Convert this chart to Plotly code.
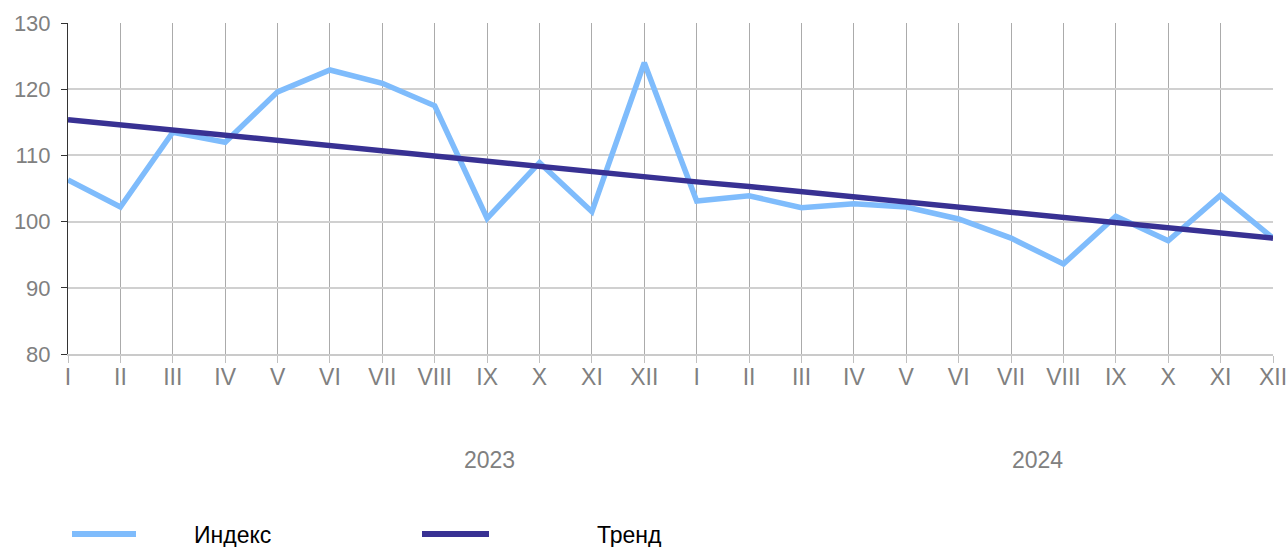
import plotly.graph_objects as go

months = ["I", "II", "III", "IV", "V", "VI", "VII", "VIII", "IX", "X", "XI", "XII",
          "I", "II", "III", "IV", "V", "VI", "VII", "VIII", "IX", "X", "XI", "XII"]
years = ["2023", "2024"]
index_vals = [106.3, 102.2, 113.5, 112.0, 119.6, 122.9, 120.9, 117.5, 100.5, 108.9, 101.5, 124.0,
              103.1, 103.9, 102.1, 102.7, 102.2, 100.4, 97.5, 93.6, 100.8, 97.1, 104.0, 97.5]
trend_vals = [115.4, 114.6, 113.8, 113.1, 112.3, 111.5, 110.7, 109.9, 109.2, 108.4, 107.6, 106.8,
              106.0, 105.3, 104.5, 103.7, 102.9, 102.1, 101.4, 100.6, 99.8, 99.0, 98.2, 97.5]
year_pos = [8.05, 18.5]
series_names = ["Индекс", "Тренд"]
series_colors = ["#7FBCFC", "#383193"]

W, H = 1288, 547
ML, MR, MT, MB = 68, 15, 23, 193

x = list(range(len(months)))
fig = go.Figure()
for vals, name, col in zip([index_vals, trend_vals], series_names, series_colors):
    fig.add_trace(go.Scatter(x=x, y=vals, mode="lines", name=name,
                             line=dict(color=col, width=5.5), showlegend=False))

for yr, xp in zip(years, year_pos):
    fig.add_annotation(x=xp, y=0, xref="x", yref="paper", yshift=-106, yanchor="middle",
                       text=yr, showarrow=False, font=dict(size=23, color="#808080"))

# legend drawn at pixel positions (converted to paper coords)
pw, ph = W - ML - MR, H - MT - MB
def px(xs):
    return (xs - ML) / pw
def py(ys):
    return (H - MB - ys) / ph

leg_items = [(72, 136, 192), (422, 489, 595)]
for (x0, x1, tx), name, col in zip(leg_items, series_names, series_colors):
    fig.add_shape(type="line", xref="paper", yref="paper", x0=px(x0), x1=px(x1),
                  y0=py(534), y1=py(534), line=dict(color=col, width=6))
    fig.add_annotation(xref="paper", yref="paper", x=px(tx), y=py(535), xanchor="left",
                       yanchor="middle", text=name, showarrow=False,
                       font=dict(size=23, color="#000000"))

fig.update_layout(
    width=W, height=H,
    margin=dict(l=ML, r=MR, t=MT, b=MB, autoexpand=False),
    plot_bgcolor="white", paper_bgcolor="white",
    font=dict(family="Liberation Sans, Arial", color="#808080"),
    showlegend=False,
)
fig.update_xaxes(range=[0, 23], tickmode="array", tickvals=x, ticktext=months,
                 showgrid=True, gridcolor="#ABABAB", gridwidth=1,
                 showline=True, linecolor="#CACACA", linewidth=2,
                 ticks="outside", ticklen=7, tickcolor="#C0C0C0", ticklabelstandoff=-6,
                 tickfont=dict(size=23, color="#808080"), zeroline=False, automargin=False)
fig.update_yaxes(range=[80, 130], dtick=10, showgrid=True, gridcolor="#D0D0D0", gridwidth=1.5,
                 showline=True, linecolor="#333333", linewidth=1,
                 ticks="outside", ticklen=6, tickcolor="#333333", ticklabelstandoff=6,
                 tickfont=dict(size=22, color="#808080"), zeroline=False, automargin=False)

fig.write_html("out.html", config={"displayModeBar": False},
               post_script="document.body.style.margin='0';document.body.style.overflow='hidden';")
